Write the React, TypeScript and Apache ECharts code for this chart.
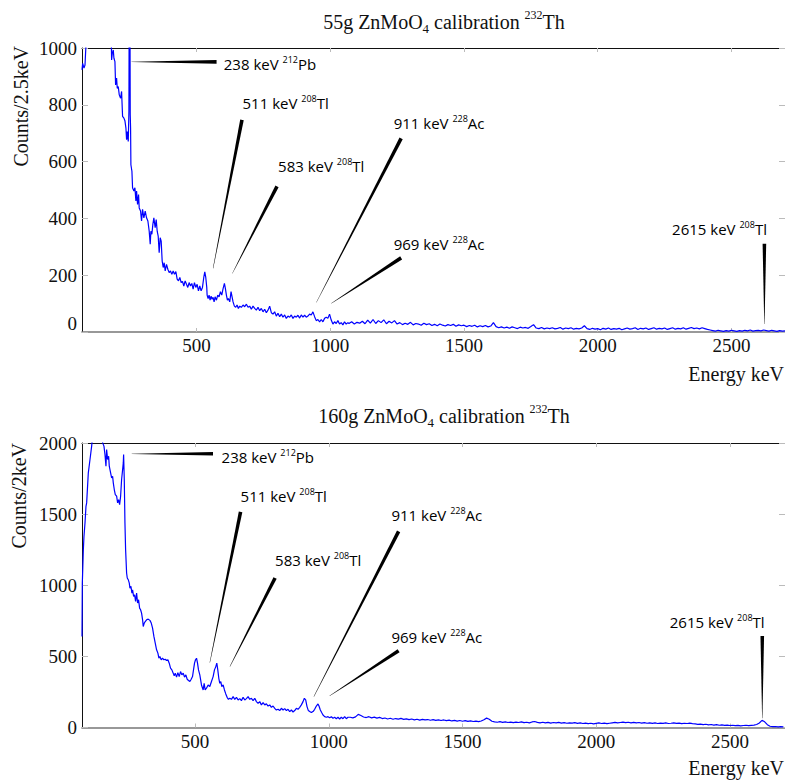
import React, { useEffect, useRef } from 'react';
import * as echarts from 'echarts';

// ---------- data (keV, counts) ----------
const TOP_LOW: [number, number][] = [
  [72, 923], [74.5, 946], [79.4, 929], [83.2, 940], [85.6, 987], [88, 1030], [100, 1150], [130, 1300], [160, 1250], [181, 1050],
  [182.7, 958], [185.2, 981], [188.9, 993], [191.4, 964], [195.1, 952], [197.6, 870], [201.3, 894], [203.8, 858], [207.5, 864],
  [211.3, 835], [216.3, 823], [220, 847], [223.7, 759], [228.7, 753], [232.4, 744], [236.2, 718], [238.7, 677], [241.1, 706],
  [244.9, 671], [247.4, 777], [248.6, 1250], [250.5, 1400], [252.3, 765], [253.6, 718], [254.8, 589], [258.6, 566], [261, 508],
  [266, 496], [269.8, 508], [273.5, 461], [276, 496], [279.7, 449], [283.4, 484], [285.9, 437], [290.9, 426], [294.6, 391],
  [298.4, 432], [303.3, 402], [308.3, 426], [313.3, 402], [318.3, 391], [323.2, 355], [327, 309], [329.5, 355], [333.2, 344],
  [336.9, 379], [340.6, 402], [345.6, 367], [349.4, 396], [353.1, 355], [356.8, 338], [360.5, 279], [364.3, 332], [368, 320],
  [371.7, 250], [375.5, 227], [379.2, 244], [383, 215], [387.9, 238], [392.9, 221], [397.9, 209], [402.8, 215], [407.8, 203],
  [412.8, 215], [417.8, 203], [422.8, 213], [427.7, 186], [432.7, 180], [437.7, 192], [442.7, 174], [447.6, 178], [452.6, 162],
  [457.6, 180], [462.6, 168], [467.5, 157], [472.5, 174], [477.5, 162], [482.5, 171], [487.4, 151], [492.4, 174], [497.4, 157],
  [502.4, 168], [507.3, 145], [512.3, 162], [517.3, 145], [522.3, 157], [527.2, 192], [531, 212], [534.7, 192], [538.4, 157],
  [539.7, 130], [543.4, 118], [547.1, 130], [550.9, 112], [554.6, 126], [558.3, 115], [562, 122], [565.8, 106], [569.5, 124],
  [574.5, 112], [579.5, 130], [584.4, 124], [589.4, 142], [594.4, 130], [599.4, 153], [604.4, 171], [608.1, 153], [611.8, 130],
  [615.6, 112], [619.3, 118], [624.3, 106], [629.2, 142], [633, 124], [636.7, 106], [641.7, 91], [646.6, 87], [651.6, 95],
  [656.6, 83], [661.6, 91], [667.8, 87], [674, 95], [680.2, 89], [686.5, 98], [692.7, 87], [698.9, 91], [705.1, 80], [711.3, 91],
  [717.6, 83], [723.8, 77], [730, 87], [736.2, 75], [742.4, 83], [748.7, 71], [754.9, 80], [761.1, 68], [767.3, 77], [773.5, 91],
  [779.8, 68], [786, 63], [792.2, 71], [798.4, 56], [804.6, 66], [810.9, 54], [817.1, 63], [823.3, 52], [829.5, 60], [835.7, 48],
  [842, 56], [848.2, 52], [854.4, 60], [860.6, 48], [866.9, 56], [873.1, 52], [879.3, 59], [885.5, 49], [891.7, 60], [898, 52],
  [904.2, 59], [910.4, 52], [916.6, 56], [922.8, 63], [929.1, 60], [935.3, 71], [941.5, 54], [947.7, 40], [953.9, 44], [960.2, 36],
  [966.4, 44], [972.6, 36], [978.8, 48], [985, 52], [991.2, 48], [997.4, 63], [1003.7, 42], [1009.9, 28], [1016.1, 36],
  [1022.3, 30], [1028.5, 40], [1034.8, 28], [1041, 33], [1047.2, 25], [1053.4, 36], [1059.6, 28], [1065.9, 33],
];
const TOP_TAIL_START = 1070;
const TOP_TAIL_STEP = 10;
const TOP_TAIL: number[] = [
  30, 36, 28, 34, 31, 38, 29, 42, 31, 44,
  30, 40, 33, 43, 29, 38, 32, 40, 28, 33,
  26, 31, 27, 34, 25, 30, 28, 24, 31, 26,
  29, 23, 27, 22, 28, 24, 21, 26, 23, 27,
  20, 25, 22, 24, 19, 23, 20, 24, 18, 22,
  19, 23, 18, 21, 33, 19, 15, 18, 14, 17,
  13, 18, 15, 12, 17, 14, 16, 13, 19, 26,
  14, 12, 16, 11, 14, 12, 15, 11, 13, 16,
  10, 14, 12, 15, 10, 13, 11, 14, 22, 12,
  9, 13, 10, 12, 8, 13, 10, 14, 9, 12,
  10, 13, 8, 11, 14, 10, 12, 15, 9, 13,
  11, 14, 9, 12, 15, 10, 13, 11, 14, 9,
  12, 15, 10, 13, 11, 15, 10, 13, 16, 12,
  14, 11, 15, 12, 9, 7, 5, 3, 6, 4,
  2, 5, 3, 6, 4, 2, 5, 3, 6, 4,
  7, 3, 5, 6, 4, 7, 5, 3, 6, 4,
  2, 5, 3, 4,
];

const BOT_LOW: [number, number][] = [
  [77, 640], [78.2, 1015], [82, 1250], [84.4, 1344], [88.2, 1438], [91.9, 1555], [94.4, 1579], [100.6, 1790], [106.9, 1884],
  [113.1, 1978], [116.8, 2050], [125, 2200], [140, 2250], [150.4, 2100], [154.2, 2001], [159.1, 1978], [162.9, 1919],
  [166.6, 1837], [169.1, 1954], [172.8, 1884], [176.6, 1907], [179, 1837], [184, 1790], [187.8, 1755], [191.5, 1766],
  [194, 1720], [197.7, 1673], [201.5, 1637], [206.5, 1626], [210.2, 1579], [213.9, 1602], [217.7, 1567], [221.4, 1626],
  [225.1, 1743], [228.9, 1813], [231.4, 1860], [232.6, 1919], [235.1, 1743], [237.6, 1438], [240.1, 1250], [243.8, 1086],
  [246.3, 1051], [250, 1039], [253.8, 1015], [256.3, 980], [260, 992], [263.7, 945], [266.2, 968], [270, 921], [273.7, 933],
  [277.4, 886], [281.2, 945], [284.9, 875], [288.6, 898], [292.4, 839], [296.1, 828], [299.8, 804], [303.6, 757], [306, 710],
  [309.8, 734], [313.5, 745], [318.5, 757], [324.7, 762], [331, 753], [336, 734], [340.9, 698], [345.9, 640], [350.9, 593],
  [355.9, 546], [360.8, 523], [364.6, 487], [368.3, 499], [373.3, 476], [378.3, 487], [383.2, 476], [388.2, 480], [393.2, 471],
  [398.2, 476], [403.2, 452], [408.1, 417], [413.1, 405], [418.1, 382], [421.8, 363], [425.6, 382], [430.6, 354], [435.5, 386],
  [440.5, 358], [445.5, 393], [450.5, 370], [455.5, 382], [460.4, 354], [465.4, 370], [470.4, 339], [475.4, 330], [480.4, 323],
  [485.3, 339], [490.3, 358], [494, 405], [497.8, 452], [501.5, 476], [505.3, 487], [509, 452], [512.7, 405], [517.6, 370],
  [523.8, 299], [530.1, 264], [533.8, 311], [537.5, 264], [542.5, 276], [548.7, 299], [555, 288], [561.2, 323], [567.4, 358],
  [572.4, 405], [577.4, 428], [581.1, 452], [584.8, 405], [588.6, 346], [592.3, 311], [596, 323], [599.8, 288], [604.8, 299],
  [609.7, 264], [614.7, 236], [619.7, 212], [624.7, 198], [629.7, 205], [635.9, 198], [642.1, 217], [648.3, 198], [654.6, 212],
  [660.8, 194], [667, 203], [673.2, 189], [679.4, 212], [685.7, 194], [691.9, 203], [698.1, 217], [704.3, 198], [710.6, 205],
  [716.8, 189], [723, 205], [729.3, 182], [735.5, 170], [741.7, 182], [747.9, 159], [754.2, 175], [760.4, 159], [766.6, 166],
  [772.8, 151], [779, 159], [785.3, 142], [791.5, 151], [797.7, 135], [803.9, 123], [810.2, 128], [816.4, 119], [822.6, 135],
  [828.9, 123], [835.1, 133], [841.3, 119], [847.5, 128], [853.8, 112], [860, 123], [866.2, 109], [872.4, 119], [878.7, 135],
  [884.9, 128], [891.1, 142], [897.3, 159], [903.6, 182], [908.5, 205], [913.5, 194], [918.5, 147], [923.5, 119], [928.5, 112],
  [934.7, 105], [940.9, 112], [947.1, 128], [953.4, 151], [959.6, 166], [963.3, 151], [968.3, 123], [973.3, 105], [978.3, 88],
  [984.5, 76], [990.7, 72], [997, 76], [1003.2, 69], [1009.4, 76], [1015.6, 65], [1021.8, 72], [1028.1, 62], [1034.3, 72],
  [1040.5, 60], [1046.7, 72], [1052.9, 62], [1059.2, 76], [1065.4, 62], [1071.6, 72],
];
const BOT_TAIL_START = 1080;
const BOT_TAIL_STEP = 10;
const BOT_TAIL: number[] = [
  72, 68, 75, 92, 84, 74, 70, 76, 68, 73,
  66, 71, 63, 67, 60, 65, 58, 63, 59, 64,
  57, 61, 55, 60, 54, 58, 52, 57, 53, 56,
  51, 55, 50, 54, 49, 53, 48, 52, 46, 50,
  45, 49, 44, 48, 43, 47, 42, 45, 41, 46,
  55, 66, 58, 44, 40, 37, 41, 36, 39, 35,
  38, 34, 38, 35, 40, 34, 37, 33, 39, 42,
  36, 33, 37, 32, 36, 31, 35, 33, 36, 31,
  34, 30, 33, 31, 34, 29, 32, 28, 31, 27,
  30, 26, 29, 32, 28, 31, 27, 30, 33, 36,
  32, 35, 38, 34, 37, 33, 36, 32, 35, 31,
  34, 30, 33, 29, 32, 28, 31, 29, 32, 28,
  30, 33, 29, 31, 27, 30, 28, 31, 27, 25,
  22, 24, 20, 23, 19, 21, 17, 20, 16, 18,
  15, 17, 14, 16, 13, 15, 12, 14, 16, 13,
  15, 17, 21, 32, 50, 40, 20, 9, 6, 7,
  5, 6, 4,
];

const X_TICKS = [500, 1000, 1500, 2000, 2500];
const PEAK_ENERGY = ['238', '511', '583', '911', '969', '2615'];
const PEAK_ISOTOPE = ['212', '208', '208', '228', '228', '208'];
const PEAK_ELEMENT = ['Pb', 'Tl', 'Tl', 'Ac', 'Ac', 'Tl'];

// annotation geometry in data coordinates: [tipX, tipY, baseX, baseY, labelX, labelY]
const TOP_ANN: number[][] = [
  [257, 951, 575, 951, 602, 944],
  [562, 224, 670, 747, 672, 808],
  [634, 206, 801, 513, 805, 584],
  [948, 104, 1265, 682, 1237, 736],
  [1004, 101, 1265, 261, 1237, 311],
  [2623, 28, 2623, 311, 2278, 364],
];
const BOT_ANN: number[][] = [
  [263, 1924, 567, 1924, 599, 1900],
  [555, 456, 670, 1516, 670, 1630],
  [630, 428, 799, 1051, 799, 1180],
  [944, 217, 1261, 1379, 1234, 1492],
  [1003, 222, 1261, 539, 1234, 639],
  [2621, 65, 2621, 644, 2275, 745],
];

const SERIF = "'Liberation Serif', 'Times New Roman', serif";
const SANS = "'Open Sans', 'Noto Sans', sans-serif";

function buildSeries(low: [number, number][], start: number, step: number, tail: number[]) {
  const out: number[][] = low.map((p) => [p[0], p[1]]);
  tail.forEach((c, i) => out.push([start + i * step, c]));
  return out;
}

function annRender(params: any, api: any) {
  const i = params.dataIndex;
  const a = api.coord([api.value(0), api.value(1)]);
  const b = api.coord([api.value(2), api.value(3)]);
  const l = api.coord([api.value(4), api.value(5)]);
  const dx = b[0] - a[0];
  const dy = b[1] - a[1];
  const len = Math.hypot(dx, dy) || 1;
  const px = -dy / len;
  const py = dx / len;
  const w0 = 0.15;
  const w1 = 1.8;
  return {
    type: 'group',
    children: [
      {
        type: 'polygon',
        shape: {
          points: [
            [a[0] + px * w0, a[1] + py * w0],
            [b[0] + px * w1, b[1] + py * w1],
            [b[0] - px * w1, b[1] - py * w1],
            [a[0] - px * w0, a[1] - py * w0],
          ],
        },
        style: { fill: '#000' },
      },
      {
        type: 'text',
        x: l[0],
        y: l[1],
        style: {
          text: `{n|${PEAK_ENERGY[i]} keV }{s|${PEAK_ISOTOPE[i]}}{n|${PEAK_ELEMENT[i]}}`,
          align: 'left',
          textAlign: 'left',
          verticalAlign: 'middle',
          textVerticalAlign: 'middle',
          fill: '#000',
          rich: {
            n: { fontSize: 15, fontFamily: SANS, fill: '#000', color: '#000', lineHeight: 18 },
            s: { fontSize: 9, fontFamily: SANS, fill: '#000', color: '#000', verticalAlign: 'top', lineHeight: 10 },
          },
        },
      },
    ],
  };
}

function mkX(gridIndex: number, min: number, max: number, main: boolean) {
  return {
    type: 'value',
    gridIndex,
    min,
    max,
    position: main ? 'bottom' : 'top',
    axisLine: { show: true, onZero: false, lineStyle: { color: main ? '#777' : '#111', width: main ? 1.6 : 1 } },
    axisTick: { show: true, inside: true, length: 4, customValues: X_TICKS, lineStyle: { color: '#bbb' } },
    axisLabel: {
      show: main,
      customValues: X_TICKS,
      margin: 4,
      fontSize: 19,
      fontFamily: SERIF,
      color: '#111',
      formatter: (v: number) => String(v),
    },
    splitLine: { show: false },
  };
}

function mkY(gridIndex: number, max: number, interval: number, main: boolean, shiftZero: boolean) {
  return {
    type: 'value',
    gridIndex,
    min: 0,
    max,
    interval,
    position: main ? 'left' : 'right',
    axisLine: { show: main, onZero: false, lineStyle: { color: '#111', width: 1 } },
    axisTick: { show: true, inside: true, length: 6, lineStyle: { color: '#bbb' } },
    axisLabel: {
      show: main,
      margin: 5,
      fontSize: 19,
      fontFamily: SERIF,
      color: '#111',
      formatter: (v: number) => (shiftZero && v === 0 ? '{z|0}' : String(v)),
      rich: { z: { fontSize: 19, fontFamily: SERIF, color: '#111', padding: [0, 0, 18, 0] } },
    },
    splitLine: { show: false },
  };
}

const titleRich = {
  sub: { fontSize: 13, fontFamily: SERIF, color: '#111', verticalAlign: 'bottom', lineHeight: 13 },
  sup: { fontSize: 12, fontFamily: SERIF, color: '#111', verticalAlign: 'top', lineHeight: 12 },
};

export default function App() {
  const ref = useRef<HTMLDivElement>(null);
  useEffect(() => {
    if (!ref.current) return;
    const chart = echarts.init(ref.current, undefined, { renderer: 'svg' });
    const topData = buildSeries(TOP_LOW, TOP_TAIL_START, TOP_TAIL_STEP, TOP_TAIL);
    const botData = buildSeries(BOT_LOW, BOT_TAIL_START, BOT_TAIL_STEP, BOT_TAIL);
    chart.setOption({
      animation: false,
      backgroundColor: '#fff',
      title: [
        {
          text: '55g ZnMoO{sub|4} calibration {sup|232}Th',
          left: 439,
          top: 4,
          textAlign: 'center',
          textStyle: { fontFamily: SERIF, fontSize: 20, fontWeight: 'normal', color: '#111', lineHeight: 26, rich: titleRich },
        },
        {
          text: '160g ZnMoO{sub|4} calibration {sup|232}Th',
          left: 439,
          top: 398,
          textAlign: 'center',
          textStyle: { fontFamily: SERIF, fontSize: 20, fontWeight: 'normal', color: '#111', lineHeight: 26, rich: titleRich },
        },
      ],
      grid: [
        { left: 82, top: 48, width: 704, height: 284 },
        { left: 82, top: 443, width: 704, height: 284.5 },
      ],
      xAxis: [mkX(0, 72, 2700, true), mkX(0, 72, 2700, false), mkX(1, 77, 2706, true), mkX(1, 77, 2706, false)],
      yAxis: [mkY(0, 1000, 200, true, true), mkY(0, 1000, 200, false, false), mkY(1, 2000, 500, true, false), mkY(1, 2000, 500, false, false)],
      graphic: [
        {
          type: 'text', x: 21, y: 46, rotation: Math.PI / 2,
          style: { text: 'Counts/2.5keV', font: `20px ${SERIF}`, fill: '#111', align: 'right', textAlign: 'right', verticalAlign: 'middle', textVerticalAlign: 'middle' },
        },
        {
          type: 'text', x: 19, y: 443, rotation: Math.PI / 2,
          style: { text: 'Counts/2keV', font: `20px ${SERIF}`, fill: '#111', align: 'right', textAlign: 'right', verticalAlign: 'middle', textVerticalAlign: 'middle' },
        },
        {
          type: 'text', x: 784, y: 374,
          style: { text: 'Energy keV', font: `20px ${SERIF}`, fill: '#111', align: 'right', textAlign: 'right', verticalAlign: 'middle', textVerticalAlign: 'middle' },
        },
        {
          type: 'text', x: 784, y: 768,
          style: { text: 'Energy keV', font: `20px ${SERIF}`, fill: '#111', align: 'right', textAlign: 'right', verticalAlign: 'middle', textVerticalAlign: 'middle' },
        },
      ],
      series: [
        {
          type: 'line', xAxisIndex: 0, yAxisIndex: 0, data: topData, showSymbol: false, symbol: 'none',
          lineStyle: { color: '#0000ff', width: 1.2 }, clip: true, z: 2,
        },
        {
          type: 'line', xAxisIndex: 2, yAxisIndex: 2, data: botData, showSymbol: false, symbol: 'none',
          lineStyle: { color: '#0000ff', width: 1.2 }, clip: true, z: 2,
        },
        { type: 'custom', xAxisIndex: 0, yAxisIndex: 0, data: TOP_ANN, renderItem: annRender, clip: false, z: 3 },
        { type: 'custom', xAxisIndex: 2, yAxisIndex: 2, data: BOT_ANN, renderItem: annRender, clip: false, z: 3 },
      ],
    });
    return () => chart.dispose();
  }, []);
  return <div ref={ref} style={{ position: 'absolute', left: 0, top: 0, width: 785, height: 781 }} />;
}
